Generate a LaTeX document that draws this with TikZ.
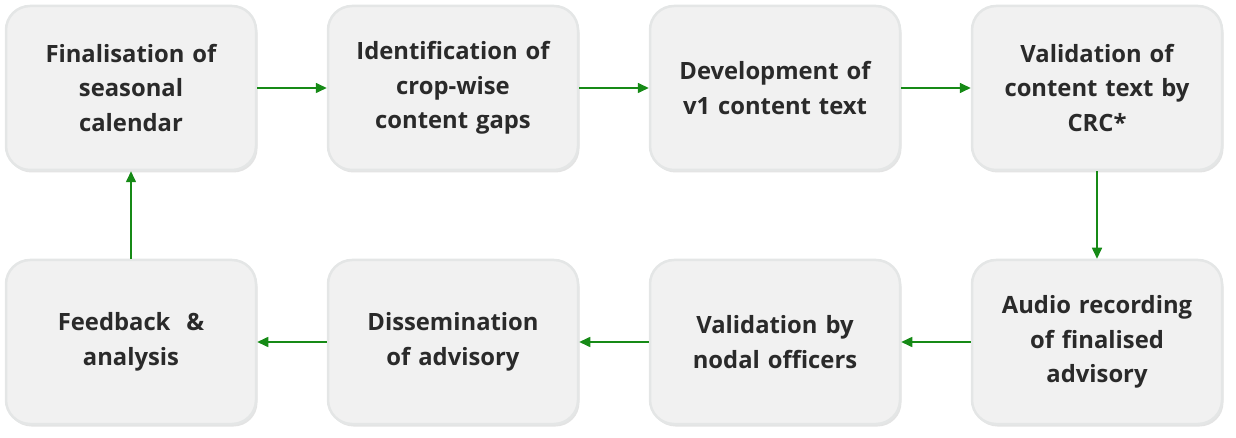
\documentclass[tikz,border=0pt]{standalone}
\usepackage{fontspec}
\setmainfont{Open Sans}
\usetikzlibrary{arrows.meta,shadows}
\definecolor{boxfill}{HTML}{F1F1F1}
\definecolor{boxline}{HTML}{E4E6E6}
\definecolor{txt}{HTML}{2A2A2A}
\definecolor{arr}{HTML}{168A16}
\tikzset{
  stepbox/.style={draw=boxline, line width=2.5pt, fill=boxfill, rounded corners=24pt,
    minimum width=250pt, minimum height=164pt, align=center, text width=240pt,
    font=\fontsize{23.8}{34.5}\selectfont\bfseries, text=txt,
    drop shadow={opacity=0.18, shadow xshift=1.5pt, shadow yshift=-2.5pt, fill=black!60}},
  flow/.style={draw=arr, line width=1.6pt, -{Triangle[length=11pt,width=10pt]}}
}
\begin{document}
\begin{tikzpicture}[x=1pt,y=-1pt]
\useasboundingbox (0,0) rectangle (1236,438);
\node[stepbox] (a) at (131,88) {Finalisation of\\seasonal\\calendar};
\node[stepbox] (b) at (453,88) {Identification of\\crop-wise\\content gaps};
\node[stepbox] (c) at (775,88) {Development of\\v1 content text};
\node[stepbox] (d) at (1097,88) {Validation of\\content text by\\CRC*};
\node[stepbox] (e) at (1097,342) {Audio recording\\of finalised\\advisory};
\node[stepbox] (f) at (775,342) {Validation by\\nodal officers};
\node[stepbox] (g) at (453,342) {Dissemination\\of advisory};
\node[stepbox] (h) at (131,342) {Feedback~~\&\\analysis};
\draw[flow] (a.east) -- (b.west);
\draw[flow] (b.east) -- (c.west);
\draw[flow] (c.east) -- (d.west);
\draw[flow] (d.south) -- (e.north);
\draw[flow] (e.west) -- (f.east);
\draw[flow] (f.west) -- (g.east);
\draw[flow] (g.west) -- (h.east);
\draw[flow] (h.north) -- (a.south);
\end{tikzpicture}
\end{document}
